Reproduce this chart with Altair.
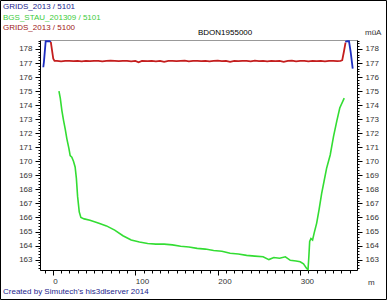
import altair as alt
import pandas as pd

FONT = "Liberation Sans"
NAVY = "#1c1c8c"
BLUE = "#1f2fc0"
GREEN = "#33dd33"
RED = "#c41e1e"
GREEN_TXT = "#3ccc3c"
RED_TXT = "#a01818"

series_names = ["GRIDS_2013 / 5101", "BGS_STAU_201309 / 5101", "GRIDS_2013 / 5100"]
chart_title = "BDON1955000"
unit_y = "müA"
unit_x = "m"
footer = "Created by Simutech's his3dlserver 2014"

# GRIDS_2013 / 5100 (red)
red_x = [-2.5, -1, 0.5, 2, 5, 10, 15, 20, 25, 30, 35, 40, 45, 50, 55, 60, 65, 70, 75, 80,
         85, 90, 95, 100, 104, 108, 115, 120, 125, 130, 135, 140, 145, 150, 155, 160, 165, 170,
         175, 180, 185, 190, 195, 200, 205, 210, 215, 220, 225, 230, 235, 240, 245, 250, 255,
         260, 265, 270, 275, 280, 285, 290, 295, 300, 305, 310, 315, 320, 325, 330, 335, 340,
         345, 349, 351, 353, 355]
red_y = [178.5, 177.9, 177.3, 177.15, 177.15, 177.12, 177.15, 177.15, 177.13, 177.15, 177.12,
         177.15, 177.14, 177.15, 177.15, 177.12, 177.15, 177.17, 177.15, 177.13, 177.15, 177.15,
         177.12, 177.15, 177.05, 177.15, 177.13, 177.15, 177.12, 177.15, 177.08, 177.15, 177.15,
         177.13, 177.15, 177.17, 177.12, 177.15, 177.15, 177.13, 177.15, 177.12, 177.15, 177.17,
         177.13, 177.15, 177.08, 177.15, 177.13, 177.15, 177.15, 177.12, 177.17, 177.13, 177.15,
         177.12, 177.15, 177.13, 177.15, 177.08, 177.15, 177.17, 177.12, 177.15, 177.15, 177.12,
         177.15, 177.13, 177.15, 177.12, 177.15, 177.15, 177.13, 177.15, 177.2, 177.8, 178.45]

# GRIDS_2013 / 5101 (blue), two end pieces
blue_seg = ["a"] * 5 + ["b"] * 5
blue_x = [-11.6, -10.8, -8.7, -4.0, -2.5, 354.7, 357.0, 359.2, 361.2, 363.7]
blue_y = [176.7, 177.1, 178.55, 178.55, 178.5, 178.5, 178.55, 178.55, 177.8, 176.6]

# BGS_STAU_201309 / 5101 (green)
green_x = [7.4, 9.0, 11, 13, 15, 17, 19.5, 21, 23, 25, 27, 28.5, 30, 32, 34, 38, 45, 55, 65,
           75, 85, 95, 105, 115, 125, 135, 145, 155, 165, 175, 185, 195, 205, 215, 225, 235,
           245, 255, 262, 268, 275, 282, 288, 295, 300, 304, 308, 309.5, 310.5, 311.5, 313,
           315, 317, 320, 323, 326, 329, 332, 336.4, 340.5, 344.5, 348, 353.4]
green_y = [175.0, 174.5, 173.6, 172.9, 172.3, 171.6, 170.9, 170.4, 170.3, 170.0, 169.6, 168.8,
           167.5, 166.4, 166.0, 165.9, 165.8, 165.6, 165.4, 165.1, 164.7, 164.4, 164.25, 164.15,
           164.1, 164.1, 164.05, 163.95, 163.9, 163.8, 163.75, 163.65, 163.6, 163.45, 163.4,
           163.3, 163.25, 163.2, 163.0, 163.15, 163.1, 163.2, 162.95, 162.9, 162.85, 162.7,
           162.35, 162.3, 163.2, 164.3, 164.5, 164.4, 164.9, 165.6, 166.6, 167.7, 168.6, 169.5,
           170.45, 171.8, 172.9, 173.8, 174.5]

x_major = [0, 100, 200, 300]
x_minor = list(range(-10, 370, 10))
y_major = list(range(163, 179))
y_minor = [round(162.4 + 0.2 * i, 1) for i in range(82)]

assert len(red_x) == len(red_y)
assert len(green_x) == len(green_y)

red_df = pd.DataFrame({"x": red_x, "y": red_y})
blue_df = pd.DataFrame({"x": blue_x, "y": blue_y, "seg": blue_seg})
green_df = pd.DataFrame({"x": green_x, "y": green_y})

xs = alt.Scale(domain=[-15.6, 368.9], nice=False, zero=False)
ys = alt.Scale(domain=[162.26, 178.64], nice=False, zero=False)

lab = dict(labelFont=FONT, labelFontSize=8, labelColor="#333333", grid=False, title=None,
           tickColor="black", domainColor="black", labelFlush=False, labelOverlap=False)

ax_x_major = alt.Axis(orient="bottom", values=x_major, tickSize=5, labelPadding=2, domain=True,
                      labelAlign="left", labelOffset=0, **lab)
ax_x_minor = alt.Axis(orient="bottom", values=x_minor, tickSize=3, labels=False, domain=False,
                      grid=False, title=None, tickColor="black")
ax_yl_major = alt.Axis(orient="left", values=y_major, tickSize=5, labelPadding=3, domain=True, **lab)
ax_yl_minor = alt.Axis(orient="left", values=y_minor, tickSize=2, labels=False, domain=False,
                       grid=False, title=None, tickColor="black")
ax_yr_major = alt.Axis(orient="right", values=y_major, tickSize=5, labelPadding=3, domain=True, **lab)
ax_yr_minor = alt.Axis(orient="right", values=y_minor, tickSize=2, labels=False, domain=False,
                       grid=False, title=None, tickColor="black")

green = alt.Chart(green_df).mark_line(color=GREEN, strokeWidth=1.6).encode(
    x=alt.X("x:Q", scale=xs, axis=ax_x_major),
    y=alt.Y("y:Q", scale=ys, axis=ax_yl_major),
)
blue = alt.Chart(blue_df).mark_line(color=BLUE, strokeWidth=1.8).encode(
    x=alt.X("x:Q", scale=xs, axis=None),
    y=alt.Y("y:Q", scale=ys, axis=ax_yr_major),
    detail="seg:N",
)
red = alt.Chart(red_df).mark_line(color=RED, strokeWidth=1.8).encode(
    x=alt.X("x:Q", scale=xs, axis=ax_x_minor),
    y=alt.Y("y:Q", scale=ys, axis=ax_yl_minor),
)
carrier = alt.Chart(blue_df).mark_line(opacity=0).encode(
    x=alt.X("x:Q", scale=xs, axis=None),
    y=alt.Y("y:Q", scale=ys, axis=ax_yr_minor),
    detail="seg:N",
)


def label(text, color, x, y, align="left"):
    return alt.Chart(pd.DataFrame({"t": [text]})).mark_text(
        font=FONT, fontSize=8, color=color, align=align, baseline="middle"
    ).encode(text="t:N", x=alt.value(x), y=alt.value(y))


texts = [
    label(series_names[0], NAVY, -37, -33),
    label(series_names[1], GREEN_TXT, -37, -22.5),
    label(series_names[2], RED_TXT, -37, -12),
    label(chart_title, "black", 158, -7),
    label(unit_y, "#333333", 325, -7),
    label(unit_x, "#333333", 328, 243),
    label(footer, NAVY, -37, 252),
]

frame = alt.Chart(pd.DataFrame({"k": [0]})).mark_rect(
    fill=None, stroke="black", strokeWidth=1
).encode(x=alt.value(-39.5), x2=alt.value(346.5), y=alt.value(-39.5), y2=alt.value(259.5))

chart = alt.layer(green, blue, red, carrier, *texts, frame).resolve_axis(
    x="independent", y="independent"
).properties(
    width=317, height=230,
    autosize=alt.AutoSizeParams(type="none"),
    padding={"left": 40, "top": 40, "right": 30, "bottom": 30},
    background="white",
).configure_view(stroke="#999999", strokeWidth=1)

chart.save("out.html", embed_options={"renderer": "svg", "actions": False})
